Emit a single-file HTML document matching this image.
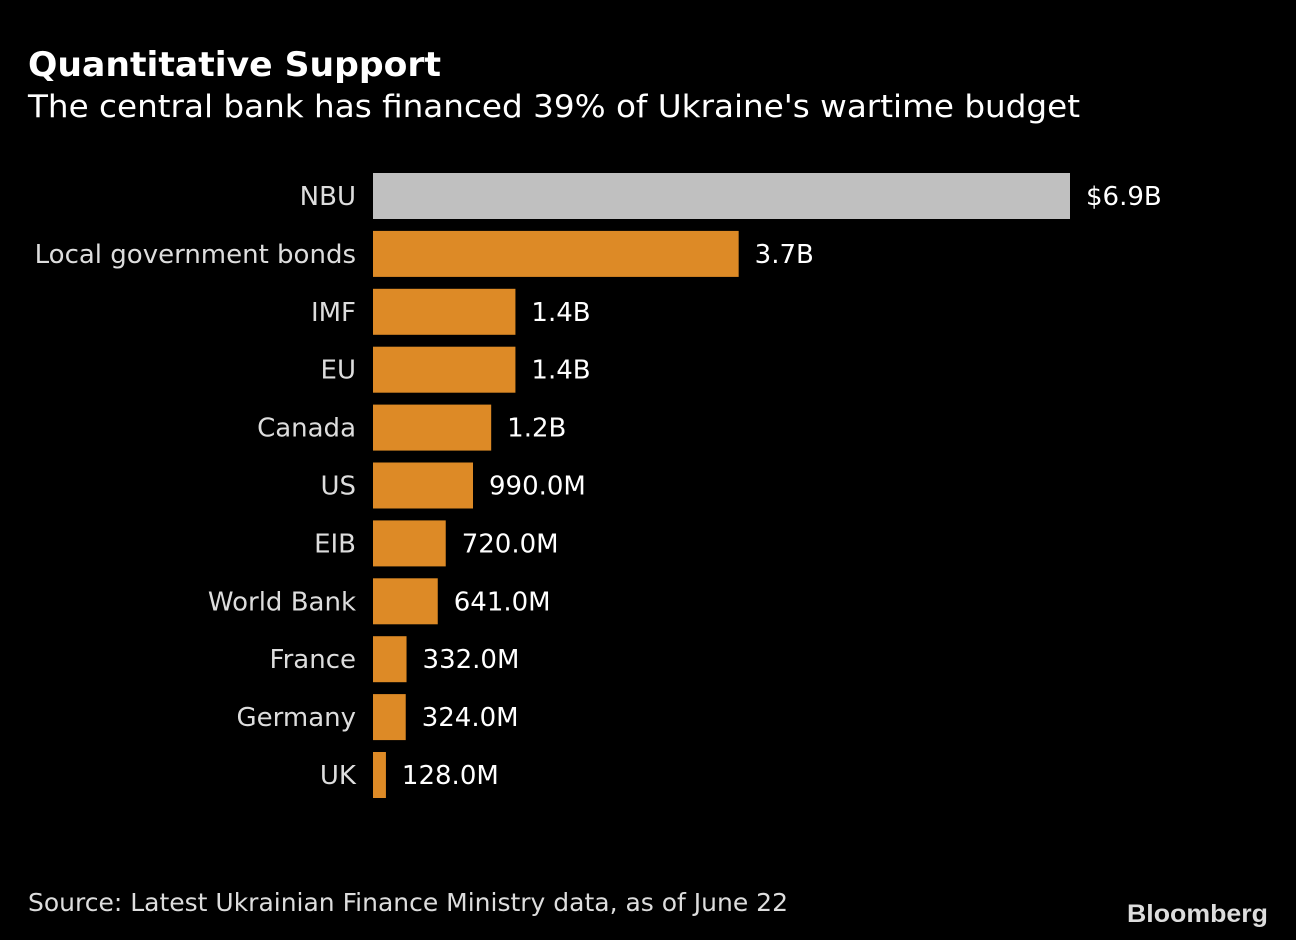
<!DOCTYPE html>
<html><head><meta charset="utf-8"><style>
html,body{margin:0;padding:0;background:#000;}
svg{display:block;font-family:"DejaVu Sans","Liberation Sans",sans-serif;}
</style></head><body>
<svg id="chart" width="1296" height="940" viewBox="0 0 1296 940">
<rect width="1296" height="940" fill="#000"/>
<text x="28" y="76" fill="#fff" font-weight="bold" font-size="34" textLength="413" lengthAdjust="spacingAndGlyphs">Quantitative Support</text>
<text x="28" y="117" fill="#fff" font-size="31" textLength="1052" lengthAdjust="spacingAndGlyphs">The central bank has financed 39% of Ukraine's wartime budget</text>
<g id="bars"></g>
<text x="28" y="911" fill="#ddd" font-size="25" textLength="760" lengthAdjust="spacingAndGlyphs">Source: Latest Ukrainian Finance Ministry data, as of June 22</text>
<text x="1268" y="922" fill="#ddd" font-weight="bold" font-size="25" text-anchor="end" textLength="141" lengthAdjust="spacingAndGlyphs" font-family="Liberation Sans, sans-serif">Bloomberg</text>
</svg>
<script>
const categories=["NBU","Local government bonds","IMF","EU","Canada","US","EIB","World Bank","France","Germany","UK"];
const values=[6.9,3.62,1.41,1.41,1.17,0.99,0.72,0.641,0.332,0.324,0.128];
const valueLabels=["$6.9B","3.7B","1.4B","1.4B","1.2B","990.0M","720.0M","641.0M","332.0M","324.0M","128.0M"];
const x0=373, xScale=v=>x0+v*(697/6.9);
const yTop=173, step=57.9, bh=46;
const yPos=i=>yTop+i*step;
const g=document.getElementById('bars');
const ns="http://www.w3.org/2000/svg";
categories.forEach((c,i)=>{
  const y=yPos(i), xe=xScale(values[i]);
  const r=document.createElementNS(ns,'rect');
  r.setAttribute('x',x0);r.setAttribute('y',y);r.setAttribute('width',xe-x0);r.setAttribute('height',bh);
  r.setAttribute('fill',i===0?'#c0c0c0':'#dd8a26');
  
  
  g.appendChild(r);
  const t=document.createElementNS(ns,'text');
  t.setAttribute('x',356);t.setAttribute('y',y+bh/2+9);t.setAttribute('text-anchor','end');
  t.setAttribute('fill','#ddd');t.setAttribute('font-size','26');t.textContent=c;
  
  
  g.appendChild(t);
  const v=document.createElementNS(ns,'text');
  v.setAttribute('x',xe+16);v.setAttribute('y',y+bh/2+9);
  v.setAttribute('fill','#fff');v.setAttribute('font-size','26');v.textContent=valueLabels[i];
  
  
  g.appendChild(v);
});
</script>
</body></html>
